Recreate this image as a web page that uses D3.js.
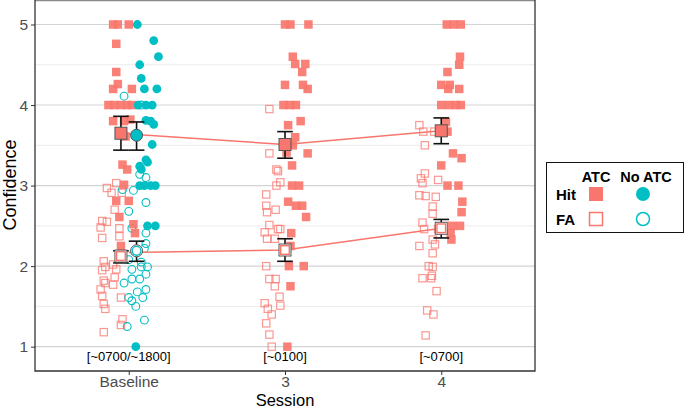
<!DOCTYPE html>
<html>
<head>
<meta charset="utf-8">
<script src="https://cdn.jsdelivr.net/npm/d3@7"></script>
<style>
  body { margin: 0; background: #fff; }
  text { font-family: "Liberation Sans", Arial, sans-serif; }
</style>
</head>
<body>
<svg id="chart" width="685" height="409"></svg>
<script>
// sessions on the x axis, with the time-of-day note under each column
const sessions = ["Baseline", "3", "4"];
const sessionNotes = ["[~0700/~1800]", "[~0100]", "[~0700]"];
const yTicks = [1, 2, 3, 4, 5];

// individual responses: [jitter (in session steps), confidence]
const baseAtcHit = [[-0.10,5],[-0.07,5],[0.00,5],[-0.08,4.76],[-0.08,4.41],[-0.07,4.26],[-0.10,4.2],[0.02,4.2],
  [-0.13,4],[-0.09,4],[-0.05,4],[-0.01,4],[0.02,4],[-0.10,3.8],[-0.03,3.8],[0.01,3.82],[-0.02,3.61],
  [-0.04,3.26],[-0.01,3.2],[-0.03,3.01],[-0.08,2.81],[0.00,2.81],[-0.06,2.61],[0.03,2.52],[0.04,2.41],[-0.05,2.25]];
const baseNoAtcHit = [[0.055,5],[0.16,4.8],[0.19,4.6],[0.07,4.5],[0.08,4.33],[0.10,4.2],[0.18,4.2],[0.06,4],[0.11,4],
  [0.15,4],[0.11,3.81],[0.14,3.8],[0.16,3.76],[0.15,3.51],[0.11,3.32],[0.12,3.29],[0.07,3.24],[0.08,3.2],
  [0.07,3],[0.10,3],[0.14,3],[0.17,3],[0.12,2.5],[0.17,2.5],[0.045,1]];
const baseAtcFa = [[-0.08,3.03],[-0.11,2.91],[-0.14,2.97],[-0.045,2.91],[-0.09,2.7],[-0.17,2.56],[-0.14,2.55],
  [-0.18,2.48],[-0.06,2.47],[-0.06,2.37],[-0.17,2.35],[-0.16,2.06],[-0.15,1.99],[-0.17,1.95],[-0.10,2.02],
  [-0.08,1.96],[-0.09,1.86],[-0.10,1.77],[-0.16,1.82],[-0.15,1.79],[-0.18,1.71],[-0.17,1.63],[-0.16,1.53],
  [-0.15,1.47],[-0.05,1.61],[-0.04,1.34],[-0.05,1.27],[-0.16,1.18]];
const baseNoAtcFa = [[-0.03,4.11],[0.08,4],[0.07,3.14],[0.11,3.1],[-0.04,2.95],[0.03,2.94],[0.11,2.79],[0.00,2.68],
  [0.02,2.47],[0.11,2.41],[0.11,2.28],[0.10,2.22],[0.00,2.08],[0.08,2.05],[0.12,1.99],[0.08,1.99],[0.02,1.96],
  [0.11,1.9],[0.07,1.84],[-0.03,1.79],[0.02,1.84],[0.11,1.71],[0.055,1.68],[0.09,1.61],[0.00,1.61],[0.02,1.57],
  [0.045,1.5],[0.10,1.33],[-0.01,1.25]];
const s3AtcHit = [[0.00,5],[0.035,5],[0.15,5],[0.05,4.6],[0.065,4.51],[0.13,4.51],[0.11,4.41],[0.00,4.25],[0.115,4.25],
  [0.145,4.2],[-0.01,4],[0.03,4],[0.07,4],[0.10,3.8],[0.02,3.75],[0.065,3.6],[0.05,3.5],[0.01,3.41],[0.145,3.4],
  [0.045,3.25],[0.045,3],[0.09,3],[0.02,2.8],[0.07,2.75],[0.11,2.75],[0.135,2.61],[0.04,2.41],[0.035,2.25],
  [0.025,2],[0.12,2],[0.035,1.75],[0.015,1]];
const s3AtcFa = [[-0.10,3.95],[-0.10,3.4],[-0.055,3.2],[-0.045,3.18],[-0.03,3.04],[-0.055,3],[-0.12,2.89],[-0.12,2.75],
  [-0.115,2.67],[-0.06,2.7],[-0.10,2.51],[-0.045,2.46],[-0.03,2.46],[-0.13,2.42],[-0.115,2.34],[-0.065,2.34],
  [-0.12,2],[-0.10,1.84],[-0.06,1.84],[-0.065,1.75],[-0.035,1.62],[-0.03,1.51],[-0.13,1.54],[-0.11,1.47],
  [-0.085,1.4],[-0.12,1.29],[-0.10,1.15],[-0.085,1]];
const s4AtcHit = [[0.035,5],[0.08,5],[0.125,5],[0.12,4.6],[0.115,4.5],[0.04,4.41],[0.00,4.25],[0.055,4.25],[0.045,4.2],
  [0.115,4.2],[0.00,4],[0.05,4],[0.095,4],[0.125,4],[0.03,3.79],[0.04,3.67],[0.075,3.4],[0.13,3.34],[0.00,3.25],
  [0.04,3],[0.11,3],[0.135,2.8],[0.13,2.67],[0.07,2.5],[0.12,2.5],[0.06,2.41],[0.065,2.33]];
const s4AtcFa = [[-0.14,3.75],[-0.115,3.67],[-0.045,3.67],[-0.105,3.5],[-0.105,3.15],[-0.13,3.09],[-0.12,3.03],
  [-0.02,3.07],[-0.14,2.88],[-0.10,2.87],[-0.035,2.86],[-0.055,2.74],[-0.055,2.65],[-0.12,2.54],[-0.11,2.46],
  [-0.02,2.46],[-0.055,2.33],[-0.04,2.27],[-0.14,2.25],[-0.055,2.16],[-0.08,2],[-0.055,1.99],[-0.06,1.88],
  [-0.12,1.85],[-0.065,1.85],[-0.03,1.69],[-0.09,1.45],[-0.05,1.4],[-0.10,1.14]];

// group means with error bars: [session, dodge, mean, low, high]
const meanAtcHit = [["Baseline",-0.05,3.65,3.44,3.86],["3",0,3.51,3.34,3.67],["4",0,3.68,3.52,3.84]];
const meanNoAtcHit = [["Baseline",0.05,3.625,3.44,3.79]];
const meanAtcFa = [["Baseline",-0.05,2.125,2.04,2.19],["3",0,2.2,2.06,2.34],["4",0,2.47,2.35,2.58]];
const meanNoAtcFa = [["Baseline",0.05,2.19,2.06,2.31]];

// trend lines across sessions
const lineHit = [3.64, 3.51, 3.68];
const lineFa = [2.17, 2.2, 2.47];

const salmon = "#F8766D", teal = "#00BFC4";
const svg = d3.select("#chart");

const x = d3.scalePoint().domain(sessions).range([35, 535]).padding(0.6);
const y = d3.scaleLinear().domain([0.698, 5.304]).range([371, 0]);
const step = x.step();

// grid
const grid = svg.append("g");
grid.selectAll("line.minor")
  .data([1.5, 2.5, 3.5, 4.5])
  .join("line")
    .attr("x1", 35).attr("x2", 535)
    .attr("y1", d => y(d)).attr("y2", d => y(d))
    .attr("stroke", "#ebebeb").attr("stroke-width", 1);
grid.selectAll("line.major")
  .data(yTicks)
  .join("line")
    .attr("x1", 35).attr("x2", 535)
    .attr("y1", d => y(d)).attr("y2", d => y(d))
    .attr("stroke", "#d4d4d4").attr("stroke-width", 1.1);

function pts(arr, session, kind) {
  return arr.map(d => ({ x: x(session) + d[0] * step, y: y(d[1]), kind: kind }));
}

const points = [].concat(
  pts(baseAtcFa, "Baseline", "sqo"), pts(baseNoAtcFa, "Baseline", "cio"),
  pts(s3AtcFa, "3", "sqo"), pts(s4AtcFa, "4", "sqo"),
  pts(baseAtcHit, "Baseline", "sqf"), pts(baseNoAtcHit, "Baseline", "cif"),
  pts(s3AtcHit, "3", "sqf"), pts(s4AtcHit, "4", "sqf")
);

const g = svg.append("g");
const sq = 8.5;
g.selectAll("rect.sqo")
  .data(points.filter(d => d.kind == "sqo"))
  .join("rect")
    .attr("x", d => d.x - sq / 2 + 0.6).attr("y", d => d.y - sq / 2 + 0.6)
    .attr("width", sq - 1.2).attr("height", sq - 1.2)
    .attr("fill", "none").attr("stroke", salmon).attr("stroke-width", 1.2)
    .attr("stroke-opacity", 0.75);
g.selectAll("circle.cio")
  .data(points.filter(d => d.kind == "cio"))
  .join("circle")
    .attr("cx", d => d.x).attr("cy", d => d.y).attr("r", 3.9)
    .attr("fill", "none").attr("stroke", teal).attr("stroke-width", 1.1);
g.selectAll("rect.sqf")
  .data(points.filter(d => d.kind == "sqf"))
  .join("rect")
    .attr("x", d => d.x - sq / 2).attr("y", d => d.y - sq / 2)
    .attr("width", sq).attr("height", sq)
    .attr("fill", salmon).attr("fill-opacity", 0.92);
g.selectAll("circle.cif")
  .data(points.filter(d => d.kind == "cif"))
  .join("circle")
    .attr("cx", d => d.x).attr("cy", d => d.y).attr("r", 4.4)
    .attr("fill", teal);

// lines
const line = d3.line().x((d, i) => x(sessions[i])).y(d => y(d));
[lineHit, lineFa].forEach(l => {
  svg.append("path").attr("d", line(l))
    .attr("fill", "none").attr("stroke", salmon).attr("stroke-width", 1.5);
});

// error bars + means
const cap = step * 0.05;
function drawMeans(arr, shape, filled, col) {
  const m = svg.append("g");
  arr.forEach(d => {
    const cx = x(d[0]) + d[1] * step;
    m.append("line").attr("x1", cx).attr("x2", cx).attr("y1", y(d[3])).attr("y2", y(d[4]))
      .attr("stroke", "#111").attr("stroke-width", 1.6);
    [d[3], d[4]].forEach(v => {
      m.append("line").attr("x1", cx - cap).attr("x2", cx + cap).attr("y1", y(v)).attr("y2", y(v))
        .attr("stroke", "#111").attr("stroke-width", 1.6);
    });
  });
  arr.forEach(d => {
    const cx = x(d[0]) + d[1] * step, cy = y(d[2]);
    if (shape == "sq") {
      m.append("rect").attr("x", cx - 6).attr("y", cy - 6).attr("width", 12).attr("height", 12)
        .attr("fill", filled ? col : "#fff").attr("stroke", "#555").attr("stroke-width", 1);
      if (!filled) m.append("rect").attr("x", cx - 4.3).attr("y", cy - 4.3).attr("width", 8.6).attr("height", 8.6)
        .attr("fill", "none").attr("stroke", col).attr("stroke-width", 1.4);
    } else {
      m.append("circle").attr("cx", cx).attr("cy", cy).attr("r", 6)
        .attr("fill", filled ? col : "#fff").attr("stroke", "#555").attr("stroke-width", 1);
      if (!filled) m.append("circle").attr("cx", cx).attr("cy", cy).attr("r", 4.4)
        .attr("fill", "none").attr("stroke", col).attr("stroke-width", 1.4);
    }
  });
}
drawMeans(meanAtcFa, "sq", false, salmon);
drawMeans(meanNoAtcFa, "ci", false, teal);
drawMeans(meanAtcHit, "sq", true, salmon);
drawMeans(meanNoAtcHit, "ci", true, teal);

// session notes
svg.append("g").selectAll("text")
  .data(sessions)
  .join("text")
    .attr("x", d => x(d)).attr("y", y(0.88) + 5)
    .attr("text-anchor", "middle").attr("font-size", 13).attr("fill", "#000")
    .text((d, i) => sessionNotes[i]);

// panel border
svg.append("line").attr("x1", 35).attr("x2", 535).attr("y1", 0.5).attr("y2", 0.5)
  .attr("stroke", "#8a8a8a").attr("stroke-width", 1.5);
svg.append("path").attr("d", "M35,0V371H535V0")
  .attr("fill", "none").attr("stroke", "#333").attr("stroke-width", 1.3);

// axes
const yAxis = svg.append("g").attr("transform", "translate(35,0)")
  .call(d3.axisLeft(y).tickValues(yTicks).tickSize(4).tickPadding(3).tickFormat(d3.format("d")));
const xAxis = svg.append("g").attr("transform", "translate(0,371)")
  .call(d3.axisBottom(x).tickSize(4).tickPadding(1));
[yAxis, xAxis].forEach(a => {
  a.select(".domain").remove();
  a.selectAll(".tick line").attr("stroke", "#333");
  a.selectAll(".tick text").attr("fill", "#4d4d4d").attr("font-size", 15.5)
    .attr("font-family", "Liberation Sans, Arial, sans-serif");
});

svg.append("text").attr("x", 285).attr("y", 405.5).attr("text-anchor", "middle")
  .attr("font-size", 16.5).text("Session");
svg.append("text").attr("transform", "translate(16,185) rotate(-90)").attr("text-anchor", "middle")
  .attr("font-size", 18).text("Confidence");

// legend
const lg = svg.append("g");
lg.append("rect").attr("x", 546.5).attr("y", 162.5).attr("width", 137).attr("height", 70)
  .attr("fill", "#fff").attr("stroke", "#111").attr("stroke-width", 1);
lg.append("text").attr("x", 596).attr("y", 182).attr("text-anchor", "middle")
  .attr("font-size", 14.5).attr("font-weight", "bold").text("ATC");
lg.append("text").attr("x", 646).attr("y", 182).attr("text-anchor", "middle")
  .attr("font-size", 14.5).attr("font-weight", "bold").text("No ATC");
lg.append("text").attr("x", 556).attr("y", 199.5)
  .attr("font-size", 15).attr("font-weight", "bold").text("Hit");
lg.append("text").attr("x", 556).attr("y", 224.5)
  .attr("font-size", 15).attr("font-weight", "bold").text("FA");
lg.append("rect").attr("x", 589).attr("y", 187).attr("width", 14).attr("height", 14).attr("fill", salmon);
lg.append("rect").attr("x", 589.5).attr("y", 212.5).attr("width", 13).attr("height", 13)
  .attr("fill", "none").attr("stroke", salmon).attr("stroke-width", 1.5);
lg.append("circle").attr("cx", 643).attr("cy", 194).attr("r", 7).attr("fill", teal);
lg.append("circle").attr("cx", 643).attr("cy", 219).attr("r", 6.5)
  .attr("fill", "none").attr("stroke", teal).attr("stroke-width", 1.5);
</script>
</body>
</html>
